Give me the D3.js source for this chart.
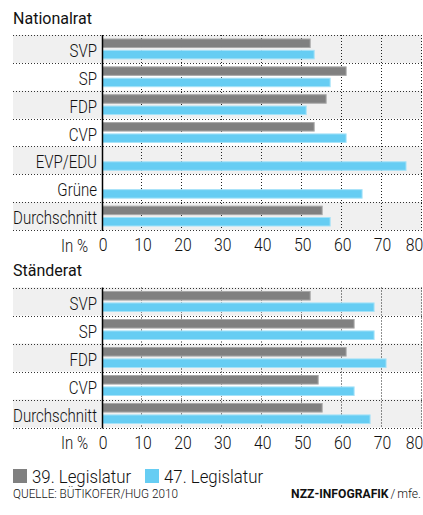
<!DOCTYPE html>
<html>
<head>
<meta charset="utf-8">
<script src="https://cdn.jsdelivr.net/npm/d3@7"></script>
<style>
  body { margin: 0; background: #fff; }
  text { font-family: Roboto, "Liberation Sans", sans-serif; font-weight: 300; fill: #111; }
</style>
</head>
<body>
<script>
var svgWidth = 423;
var svgHeight = 515;

// data
var seriesNames = ["39. Legislatur", "47. Legislatur"];
var seriesColors = ["#808080", "#66cdf3"];
var seriesStroke = ["#a8a8a8", "#a6e2f8"];

var nrParties = ["SVP", "SP", "FDP", "CVP", "EVP/EDU", "Grüne", "Durchschnitt"];
var nr39 = [52, 61, 56, 53, null, null, 55];
var nr47 = [53, 57, 51, 61, 76, 65, 57];

var srParties = ["SVP", "SP", "FDP", "CVP", "Durchschnitt"];
var sr39 = [52, 63, 61, 54, 55];
var sr47 = [68, 68, 71, 63, 67];

var tickValues = [0, 10, 20, 30, 40, 50, 60, 70, 80];

var svg = d3.select("body")
  .append("svg")
  .attr("width", svgWidth)
  .attr("height", svgHeight);

// the original uses a condensed face; squeeze a regular one horizontally
var probe = svg.append("text").style("font-size", "18px").text("Durchschnitt");
var sx = 84 / probe.node().getComputedTextLength();
probe.remove();

function condense(sel, k) {
  var f = sx * (k || 1);
  sel.each(function() {
    var t = d3.select(this);
    var tx = +t.attr("x") || 0, ty = +t.attr("y") || 0;
    t.attr("x", 0).attr("y", 0)
      .attr("transform", `translate(${tx}, ${ty}) scale(${f}, 1)`);
  });
}

var x = d3.scaleLinear().domain([0, 80]).range([102.5, 422]);
var leftEdge = 13;

function drawPanel(title, titleY, top, rowH, parties, v39, v47) {
  var g = svg.append("g");
  var bottom = top + rowH * parties.length;

  g.append("text")
    .attr("x", leftEdge)
    .attr("y", titleY)
    .style("font-size", "16px")
    .style("font-weight", 400)
    .text(title)
    .call(condense, 1.2);

  var y = d3.scaleBand().domain(parties).range([top, bottom]);
  var y1 = d3.scaleBand().domain([0, 1]).range([4, rowH - 4]).paddingInner(0.25);

  // alternating bands
  g.selectAll("rect.band")
    .data(parties.filter(function(d, i) { return i % 2 === 0; }))
    .enter()
    .append("rect")
    .attr("class", "band")
    .attr("x", leftEdge)
    .attr("y", d => y(d))
    .attr("width", x(80) - leftEdge)
    .attr("height", y.bandwidth())
    .attr("fill", "#f0f0f0");

  // vertical dotted grid
  g.selectAll("line.vgrid")
    .data(tickValues.slice(1))
    .enter()
    .append("line")
    .attr("x1", d => Math.round(x(d)) - 0.5)
    .attr("x2", d => Math.round(x(d)) - 0.5)
    .attr("y1", top)
    .attr("y2", bottom)
    .attr("stroke", "#222")
    .attr("stroke-width", 1)
    .attr("stroke-dasharray", "1,2");

  // horizontal dotted separators
  var seps = parties.map(d => y(d)).concat([bottom]);
  g.selectAll("line.hgrid")
    .data(seps)
    .enter()
    .append("line")
    .attr("x1", leftEdge)
    .attr("x2", x(80))
    .attr("y1", d => Math.round(d) + 0.5)
    .attr("y2", d => Math.round(d) + 0.5)
    .attr("stroke", "#333")
    .attr("stroke-width", 1)
    .attr("stroke-dasharray", "1,2");

  // bars
  var rows = parties.map(function(p, i) { return { party: p, vals: [v39[i], v47[i]] }; });
  var rowG = g.selectAll("g.row")
    .data(rows)
    .enter()
    .append("g")
    .attr("transform", d => `translate(0, ${y(d.party)})`);

  rowG.selectAll("rect")
    .data(d => d.vals.map(function(v, k) { return { k: k, v: v }; }).filter(e => e.v !== null))
    .enter()
    .append("rect")
    .attr("x", x(0))
    .attr("y", d => y1(d.k))
    .attr("width", d => x(d.v) - x(0))
    .attr("height", y1.bandwidth())
    .attr("fill", d => seriesColors[d.k])
    .attr("stroke", d => seriesStroke[d.k])
    .attr("stroke-width", 1);

  // category labels
  g.selectAll("text.cat")
    .data(parties)
    .enter()
    .append("text")
    .attr("x", 97)
    .attr("y", d => y(d) + y.bandwidth() / 2 + 8)
    .attr("text-anchor", "end")
    .style("font-size", "18px")
    .text(d => d)
    .call(condense);

  // zero axis
  g.append("line")
    .attr("x1", x(0))
    .attr("x2", x(0))
    .attr("y1", top)
    .attr("y2", bottom + 1)
    .attr("stroke", "#000")
    .attr("stroke-width", 1.5);

  // bottom tick labels
  var axis = g.append("g")
    .attr("transform", `translate(0, ${bottom})`)
    .call(d3.axisBottom(x).tickValues(tickValues).tickSize(0).tickPadding(8.5));
  axis.select(".domain").remove();
  axis.selectAll("text")
    .style("font-size", "18px")
    .style("font-family", null)
    .attr("fill", null)
    .attr("transform", d => `translate(${d === 80 ? -8 : 0}, 0) scale(${sx * 1.05}, 1)`);

  g.append("text")
    .attr("x", 88)
    .attr("y", bottom + 21.5)
    .attr("text-anchor", "end")
    .style("font-size", "18px")
    .text("In %")
    .call(condense);
}

drawPanel("Nationalrat", 24, 35, 195 / 7, nrParties, nr39, nr47);
drawPanel("Ständerat", 275.5, 287.5, 28, srParties, sr39, sr47);

// legend
var legend = svg.append("g").attr("transform", "translate(13, 469)");
var legendX = [0, 132];
seriesNames.forEach(function(name, i) {
  legend.append("rect")
    .attr("x", legendX[i])
    .attr("y", 0)
    .attr("width", 14)
    .attr("height", 14)
    .attr("fill", seriesColors[i]);
  legend.append("text")
    .attr("x", legendX[i] + 19)
    .attr("y", 14)
    .style("font-size", "18px")
    .text(name)
    .call(condense, 1.12);
});

// source
svg.append("text")
  .attr("x", 13)
  .attr("y", 498)
  .style("font-size", "13px")
  .text("QUELLE: BÜTIKOFER/HUG 2010")
  .call(condense, 1.08);

var credit = svg.append("text")
  .attr("x", 421)
  .attr("y", 498)
  .attr("text-anchor", "end")
  .style("font-size", "13px");
credit.append("tspan").style("font-weight", 700).text("NZZ-INFOGRAFIK");
credit.append("tspan").attr("dx", 2).text("/");
credit.append("tspan").attr("dx", 2).text("mfe.");
credit.call(condense, 1.12);
</script>
</body>
</html>
